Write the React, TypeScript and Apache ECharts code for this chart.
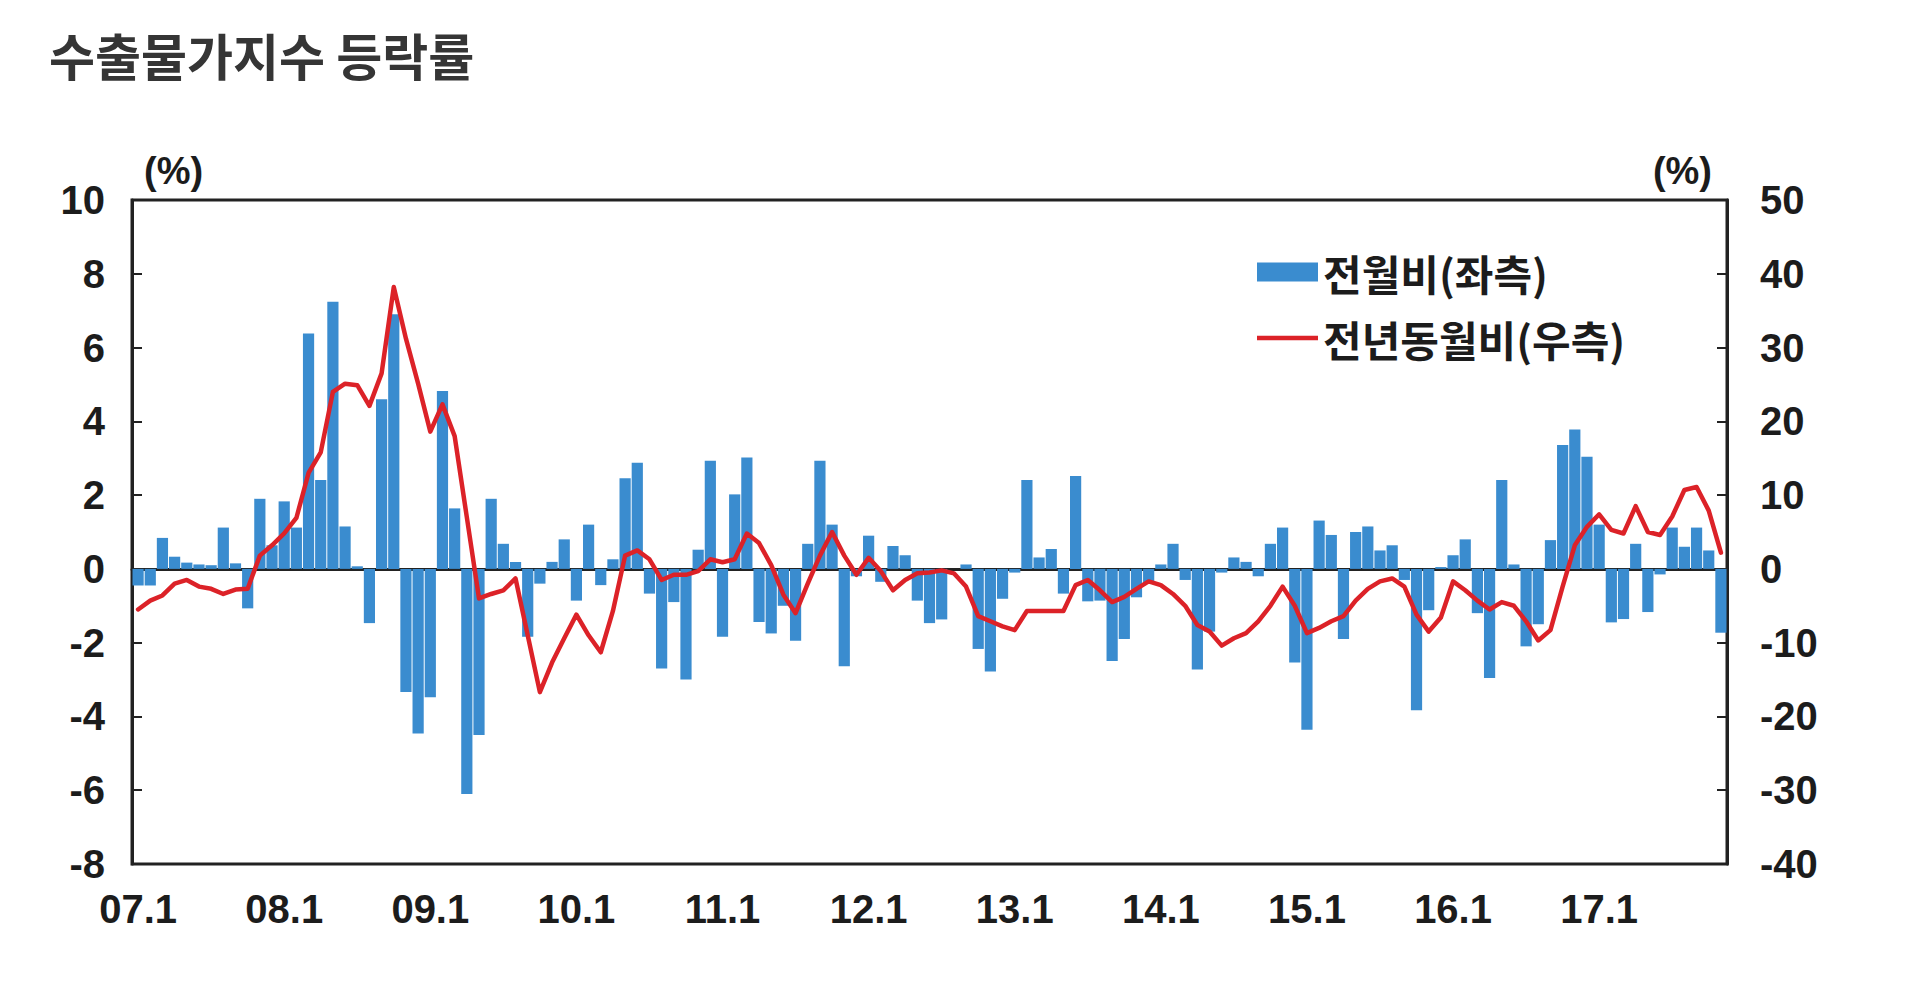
import React, { useEffect, useRef } from "react";
import * as echarts from "echarts";

// x-axis: years shown as "YY.1" labels; data runs 07.1 .. 17.11
const YEARS = ["07", "08", "09", "10", "11", "12", "13", "14", "15", "16", "17"];
const MONTHS = ["1", "2", "3", "4", "5", "6", "7", "8", "9", "10", "11", "12"];
const MONTH_COUNT = 131;
const CATEGORIES = YEARS.flatMap((y) => MONTHS.map((m) => `${y}.${m}`)).slice(0, MONTH_COUNT);

// 전월비 (좌측, %)
const MOM = [
  -0.45, -0.45, 0.84, 0.33, 0.17, 0.12, 0.1, 1.12, 0.15, -1.07, 1.9, 0.64,
  1.83, 1.12, 6.38, 2.41, 7.24, 1.15, 0.07, -1.47, 4.6, 6.9, -3.34, -4.46,
  -3.48, 4.82, 1.64, -6.1, -4.5, 1.9, 0.68, 0.19, -1.84, -0.4, 0.19, 0.8,
  -0.86, 1.2, -0.44, 0.26, 2.46, 2.88, -0.67, -2.7, -0.9, -3.0, 0.52, 2.93,
  -1.84, 2.02, 3.02, -1.44, -1.75, -1.0, -1.95, 0.68, 2.93, 1.2, -2.64, -0.2,
  0.9, -0.35, 0.62, 0.37, -0.86, -1.47, -1.37, 0.0, 0.12, -2.17, -2.78, -0.81,
  -0.1, 2.41, 0.31, 0.54, -0.67, 2.52, -0.88, -0.86, -2.5, -1.9, -0.77, -0.4,
  0.12, 0.68, -0.3, -2.73, -1.7, -0.1, 0.31, 0.19, -0.2, 0.68, 1.12, -2.54,
  -4.36, 1.31, 0.92, -1.9, 1.0, 1.15, 0.5, 0.64, -0.3, -3.83, -1.12, 0.05,
  0.37, 0.8, -1.2, -2.96, 2.41, 0.12, -2.1, -1.5, 0.78, 3.36, 3.78, 3.04,
  1.2, -1.45, -1.36, 0.68, -1.17, -0.15, 1.12, 0.6, 1.12, 0.5, -1.73,
];

// 전년동월비 (우측, %)
const YOY = [
  -5.5, -4.3, -3.6, -2.0, -1.5, -2.4, -2.7, -3.4, -2.8, -2.7, 1.8, 3.2,
  4.8, 6.9, 13.0, 15.8, 24.0, 25.1, 24.9, 22.1, 26.5, 38.2, 31.2, 25.1,
  18.6, 22.3, 18.0, 7.0, -4.0, -3.4, -2.9, -1.3, -9.0, -16.7, -12.7, -9.4,
  -6.2, -9.0, -11.3, -5.7, 1.8, 2.5, 1.3, -1.5, -0.8, -0.8, -0.3, 1.3,
  0.9, 1.3, 4.8, 3.5, 0.5, -3.5, -6.0, -2.0, 1.8, 5.0, 1.8, -0.8,
  1.5, -0.3, -2.9, -1.5, -0.6, -0.5, -0.2, -0.6, -2.4, -6.4, -7.1, -7.8,
  -8.3, -5.7, -5.7, -5.7, -5.7, -2.2, -1.5, -2.9, -4.5, -3.8, -2.7, -1.7,
  -2.2, -3.4, -5.0, -7.6, -8.5, -10.4, -9.4, -8.7, -7.1, -5.0, -2.4, -5.0,
  -8.7, -8.0, -7.1, -6.4, -4.3, -2.7, -1.7, -1.3, -2.4, -6.2, -8.5, -6.6,
  -1.7, -2.9, -4.3, -5.5, -4.5, -5.0, -7.1, -9.7, -8.3, -2.4, 3.2, 5.7,
  7.4, 5.3, 4.8, 8.5, 5.0, 4.6, 7.1, 10.7, 11.1, 7.9, 2.2,
];

const LEFT_AXIS = { min: -8, max: 10, interval: 2 };
const RIGHT_AXIS = { min: -40, max: 50, interval: 10 };

const TITLE = "수출물가지수 등락률";
const SERIES_NAMES = ["전월비(좌측)", "전년동월비(우측)"];
const UNIT = "(%)";

const LATIN = "'Liberation Sans', Arial, 'Noto Sans CJK KR', sans-serif";
const KOREAN = "'Noto Sans CJK KR', 'Liberation Sans', sans-serif";
const INK = "#1c1c1c";
const BAR_COLOR = "#3a8ccf";
const LINE_COLOR = "#dc2228";

export default function App() {
  const ref = useRef<HTMLDivElement>(null);

  useEffect(() => {
    if (!ref.current) return;
    const chart = echarts.init(ref.current, null, { renderer: "svg" });

    const axisLabel = {
      fontFamily: LATIN,
      fontSize: 40,
      fontWeight: "bold" as const,
      color: INK,
    };

    chart.setOption({
      animation: false,
      backgroundColor: "#ffffff",
      title: {
        text: TITLE,
        left: 49,
        top: 29,
        padding: 0,
        textStyle: {
          fontFamily: KOREAN,
          fontSize: 50,
          fontWeight: "bold",
          color: "#353535",
        },
      },
      legend: {
        orient: "vertical",
        left: 1257,
        top: 250,
        padding: 0,
        itemGap: 22,
        itemWidth: 61,
        itemHeight: 19,
        textStyle: {
          fontFamily: KOREAN,
          fontSize: 42,
          fontWeight: "bold",
          color: INK,
          lineHeight: 44,
        },
        data: [
          { name: SERIES_NAMES[0], icon: "rect" },
          { name: SERIES_NAMES[1], icon: "path://M0,0L60,0L60,4.5L0,4.5Z", itemStyle: { color: LINE_COLOR } },
        ],
      },
      grid: {
        left: 132,
        right: 193,
        top: 200,
        bottom: 136,
        show: true,
        borderColor: "#222222",
        borderWidth: 3,
        backgroundColor: "#ffffff",
      },
      xAxis: {
        type: "category",
        data: CATEGORIES,
        boundaryGap: true,
        axisLine: { show: true, lineStyle: { color: "#222222", width: 3 } },
        axisTick: { show: false },
        axisLabel: { ...axisLabel, interval: 11, margin: 25 },
        splitLine: { show: false },
      },
      yAxis: [
        {
          type: "value",
          position: "left",
          min: LEFT_AXIS.min,
          max: LEFT_AXIS.max,
          interval: LEFT_AXIS.interval,
          name: UNIT,
          nameLocation: "end",
          nameGap: 10,
          nameTextStyle: { ...axisLabel, fontSize: 38, align: "left", padding: [0, 0, 0, 12] },
          axisLine: { show: true, lineStyle: { color: "#222222", width: 3 } },
          axisTick: { show: true, inside: true, length: 10, lineStyle: { color: "#222222", width: 2 } },
          axisLabel: { ...axisLabel, margin: 27 },
          splitLine: { show: false },
        },
        {
          type: "value",
          position: "right",
          min: RIGHT_AXIS.min,
          max: RIGHT_AXIS.max,
          interval: RIGHT_AXIS.interval,
          name: UNIT,
          nameLocation: "end",
          nameGap: 10,
          nameTextStyle: { ...axisLabel, fontSize: 38, align: "right", padding: [0, 15, 0, 0] },
          axisLine: { show: true, lineStyle: { color: "#222222", width: 3 } },
          axisTick: { show: true, inside: true, length: 10, lineStyle: { color: "#222222", width: 2 } },
          axisLabel: { ...axisLabel, margin: 33 },
          splitLine: { show: false },
        },
      ],
      series: [
        {
          name: SERIES_NAMES[0],
          type: "bar",
          yAxisIndex: 0,
          data: MOM,
          barCategoryGap: "8%",
          itemStyle: { color: BAR_COLOR },
        },
        {
          name: SERIES_NAMES[1],
          type: "line",
          yAxisIndex: 1,
          data: YOY,
          symbol: "none",
          showSymbol: false,
          lineStyle: { color: LINE_COLOR, width: 4.5, cap: "round", join: "round" },
          itemStyle: { color: LINE_COLOR },
          z: 3,
        },
      ],
    });

    return () => chart.dispose();
  }, []);

  return (
    <div
      ref={ref}
      style={{ position: "fixed", left: 0, top: 0, width: 1920, height: 1000, background: "#fff" }}
    />
  );
}
